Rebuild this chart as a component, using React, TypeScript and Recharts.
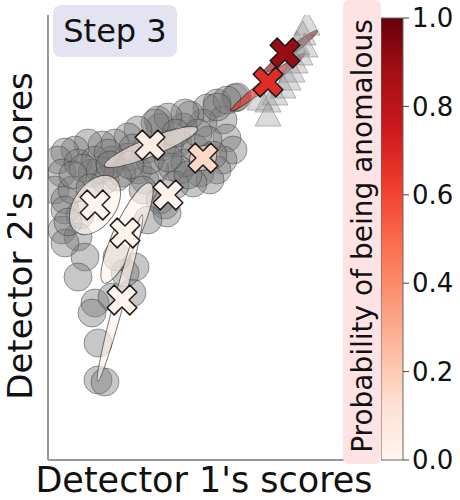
import { ScatterChart, Scatter, XAxis, YAxis, ReferenceLine, BarChart, Bar } from 'recharts'

// score space, both axes in the same units so ellipses keep their angle
const X_MAX = 3.12
const Y_MAX = 4.45
const PLOT_W = 312
const PLOT_H = 445
const PX_X = PLOT_W / X_MAX
const PX_Y = PLOT_H / Y_MAX

// normal points (circles): [detector 1, detector 2]
const normalScores: [number, number][] = [
  [1.87, 3.62], [1.69, 3.57], [1.59, 3.52], [1.75, 3.40], [1.55, 3.37], [1.42, 3.45],
  [1.35, 3.33], [1.79, 3.22], [1.85, 3.10], [1.75, 3.00], [1.69, 2.90], [1.52, 2.87],
  [1.32, 2.90], [1.22, 3.17], [1.12, 3.33], [1.10, 3.40], [1.62, 2.80], [1.45, 2.77],
  [1.37, 3.47], [1.20, 3.43], [1.07, 3.37], [0.90, 3.30], [0.80, 3.23], [0.67, 3.17],
  [0.54, 3.15], [0.40, 3.17], [0.27, 3.10], [0.17, 3.08], [0.10, 3.00], [0.14, 2.87],
  [0.07, 2.70], [0.17, 2.60], [0.30, 2.97], [0.47, 3.00], [0.64, 3.00], [0.80, 3.03],
  [0.97, 3.10], [1.14, 3.13], [1.30, 3.17], [0.74, 2.87], [0.90, 2.90], [1.07, 2.90],
  [1.24, 2.93], [1.37, 2.97], [0.57, 2.80], [0.44, 2.87], [0.97, 2.80], [1.27, 2.75],
  [1.17, 2.55], [1.12, 2.60], [1.19, 2.47], [0.95, 2.70], [0.69, 2.83], [0.52, 2.90],
  [0.24, 2.70], [0.32, 2.45], [0.17, 2.50], [0.14, 2.30], [0.30, 2.23], [0.37, 2.03],
  [0.30, 1.83], [0.17, 2.17], [0.87, 1.93], [0.84, 1.67], [0.47, 1.57], [0.44, 1.47],
  [0.64, 1.63], [0.50, 1.17], [0.50, 0.80], [0.57, 0.78], [1.00, 2.40], [0.77, 1.87],
  [0.69, 2.03], [1.89, 3.63], [1.79, 3.60], [1.69, 3.53],
  [0.85, 3.12], [1.02, 3.00], [1.20, 3.02], [0.60, 3.07], [0.35, 2.92], [0.62, 2.95],
  [1.47, 3.12], [1.60, 3.20], [1.65, 3.05], [1.40, 2.85], [0.25, 2.85], [0.42, 2.72],
  [1.50, 3.27], [1.28, 3.27], [0.20, 2.38], [0.82, 2.95],
]

// anomalous points (triangles)
const anomalyScores: [number, number][] = [
  [2.59, 4.35], [2.55, 4.25], [2.49, 4.15], [2.57, 4.13], [2.52, 4.05], [2.47, 3.97],
  [2.44, 3.88], [2.40, 3.80], [2.35, 3.72], [2.27, 3.65], [2.20, 3.58], [2.12, 3.60],
  [2.20, 3.44],
]

// mixture components: centre, semi axes, angle (deg), probability of being anomalous
const compCenters: [number, number][] = [
  [1.03, 3.13], [1.55, 3.02], [0.47, 2.55], [0.79, 2.27], [0.72, 1.62], [2.20, 3.78], [2.42, 4.08],
]
const compAxes: [number, number][] = [
  [0.50, 0.09], [0.14, 0.12], [0.33, 0.21], [0.55, 0.13], [0.86, 0.05], [0.47, 0.045], [0.35, 0.04],
]
const compAngles = [22, 30, 55, 65, 75, 38, 38]
const compProb = [0.04, 0.15, 0.01, 0.02, 0.01, 0.68, 0.9]

// component means (X markers)
const meanScores: [number, number][] = [
  [1.02, 3.15], [1.55, 3.02], [0.47, 2.55], [1.20, 2.65], [0.77, 2.27], [0.74, 1.60], [2.20, 3.78], [2.37, 4.07],
]
const meanProb = [0.04, 0.15, 0.01, 0.02, 0.02, 0.01, 0.68, 0.9]

const cbTicks = [0, 0.2, 0.4, 0.6, 0.8, 1]

// matplotlib Reds
const REDS = ['#fff5f0', '#fee0d2', '#fcbba1', '#fc9272', '#fb6a4a', '#ef3b2c', '#cb181d', '#a50f15', '#67000d']

function hex(c: string) {
  return [1, 3, 5].map(i => parseInt(c.slice(i, i + 2), 16))
}

function reds(p: number) {
  const t = Math.max(0, Math.min(1, p)) * (REDS.length - 1)
  const i = Math.min(Math.floor(t), REDS.length - 2)
  const f = t - i
  const a = hex(REDS[i]), b = hex(REDS[i + 1])
  const c = a.map((v, k) => Math.round(v + (b[k] - v) * f))
  return `rgb(${c[0]},${c[1]},${c[2]})`
}

const normals = normalScores.map(([x, y]) => ({ x, y }))
const anomalies = anomalyScores.map(([x, y]) => ({ x, y }))
const comps = compCenters.map(([x, y], i) => ({
  x, y, a: compAxes[i][0], b: compAxes[i][1], angle: compAngles[i], p: compProb[i],
}))
const means = meanScores.map(([x, y], i) => ({ x, y, p: meanProb[i] }))

const FONT = '"DejaVu Sans", sans-serif'
const SPINE = { stroke: '#999', strokeWidth: 2 }

const Circle = (props: any) => (
  <circle cx={props.cx} cy={props.cy} r={14} fill="#7a7a7a" fillOpacity={0.42}
    stroke="#333" strokeOpacity={0.45} strokeWidth={1} />
)

const Triangle = (props: any) => {
  const { cx, cy } = props
  return (
    <polygon points={`${cx},${cy - 14} ${cx + 13},${cy + 10} ${cx - 13},${cy + 10}`}
      fill="#999" fillOpacity={0.35} stroke="#777" strokeOpacity={0.5} strokeWidth={1} />
  )
}

const Ellipse = (props: any) => {
  const { cx, cy, payload } = props
  return (
    <ellipse cx={cx} cy={cy} rx={payload.a * PX_X} ry={payload.b * PX_Y}
      transform={`rotate(${-payload.angle} ${cx} ${cy})`}
      fill={reds(payload.p)} fillOpacity={0.65} stroke="#222" strokeOpacity={0.6} strokeWidth={1} />
  )
}

// thick X marker
const T = 5, L = 16
const plus = [[T, L], [T, T], [L, T], [L, -T], [T, -T], [T, -L], [-T, -L], [-T, -T], [-L, -T], [-L, T], [-T, T], [-T, L]]
const xPts = plus.map(([a, b]) => [(a - b) * Math.SQRT1_2, (a + b) * Math.SQRT1_2])

const XMark = (props: any) => {
  const { cx, cy, payload } = props
  const pts = xPts.map(([a, b]) => `${cx + a},${cy + b}`).join(' ')
  return <polygon points={pts} fill={reds(payload.p)} stroke="#1a1a1a" strokeWidth={1.5} strokeLinejoin="round" />
}

export default function App() {
  return (
    <div style={{ position: 'absolute', left: 0, top: 0, width: 460, height: 500, background: '#fff', fontFamily: FONT }}>
      <div style={{ position: 'absolute', left: 0, top: 0 }}>
        <ScatterChart width={360} height={500} margin={{ top: 15, right: 0, bottom: 40, left: 48 }}>
          <XAxis type="number" dataKey="x" domain={[0, X_MAX]} allowDataOverflow hide />
          <YAxis type="number" dataKey="y" domain={[0, Y_MAX]} allowDataOverflow hide />
          <ReferenceLine x={0} {...SPINE} ifOverflow="extendDomain" />
          <ReferenceLine y={0} {...SPINE} ifOverflow="extendDomain" />
          <Scatter data={normals} shape={Circle} isAnimationActive={false} />
          <Scatter data={comps} shape={Ellipse} isAnimationActive={false} />
          <Scatter data={anomalies} shape={Triangle} isAnimationActive={false} />
          <Scatter data={means} shape={XMark} isAnimationActive={false} />
        </ScatterChart>
      </div>

      {/* colorbar */}
      <div style={{ position: 'absolute', left: 381, top: 0 }}>
        <BarChart width={79} height={500} data={[{ v: 1 }]} barCategoryGap={0}
          margin={{ top: 18, right: 0, bottom: 40, left: 0 }}>
          <defs>
            <linearGradient id="cbReds" x1="0" y1="1" x2="0" y2="0">
              {REDS.map((c, i) => (
                <stop key={i} offset={i / (REDS.length - 1)} stopColor={c} />
              ))}
            </linearGradient>
          </defs>
          <XAxis type="category" hide />
          <YAxis orientation="right" type="number" domain={[0, 1]} ticks={cbTicks} width={57}
            tickFormatter={(v: number) => v.toFixed(1)} axisLine={false}
            tickLine={{ stroke: '#444' }} tickSize={6} tickMargin={3}
            tick={{ fontSize: 26, fill: '#111', fontFamily: FONT }} />
          <Bar dataKey="v" fill="url(#cbReds)" stroke="#666" strokeWidth={1} isAnimationActive={false} />
        </BarChart>
      </div>

      {/* colorbar label */}
      <div style={{ position: 'absolute', left: 343, top: 0, width: 38, height: 464, background: '#fde3e3', borderRadius: 6 }} />
      <div style={{ position: 'absolute', left: 362, top: 236, transform: 'translate(-50%, -50%) rotate(-90deg)',
        fontSize: 28, whiteSpace: 'nowrap', color: '#111' }}>
        Probability of being anomalous
      </div>

      {/* step tag */}
      <div style={{ position: 'absolute', left: 53, top: 5, width: 124, height: 52, background: '#e3e3f2',
        borderRadius: 8, display: 'flex', alignItems: 'center', justifyContent: 'center', fontSize: 32, color: '#111' }}>
        Step 3
      </div>

      {/* axis titles */}
      <div style={{ position: 'absolute', left: 204, top: 480, transform: 'translate(-50%, -50%)',
        fontSize: 35, whiteSpace: 'nowrap', color: '#111' }}>
        Detector 1's scores
      </div>
      <div style={{ position: 'absolute', left: 20, top: 236, transform: 'translate(-50%, -50%) rotate(-90deg)',
        fontSize: 34, whiteSpace: 'nowrap', color: '#111' }}>
        Detector 2's scores
      </div>
    </div>
  )
}
